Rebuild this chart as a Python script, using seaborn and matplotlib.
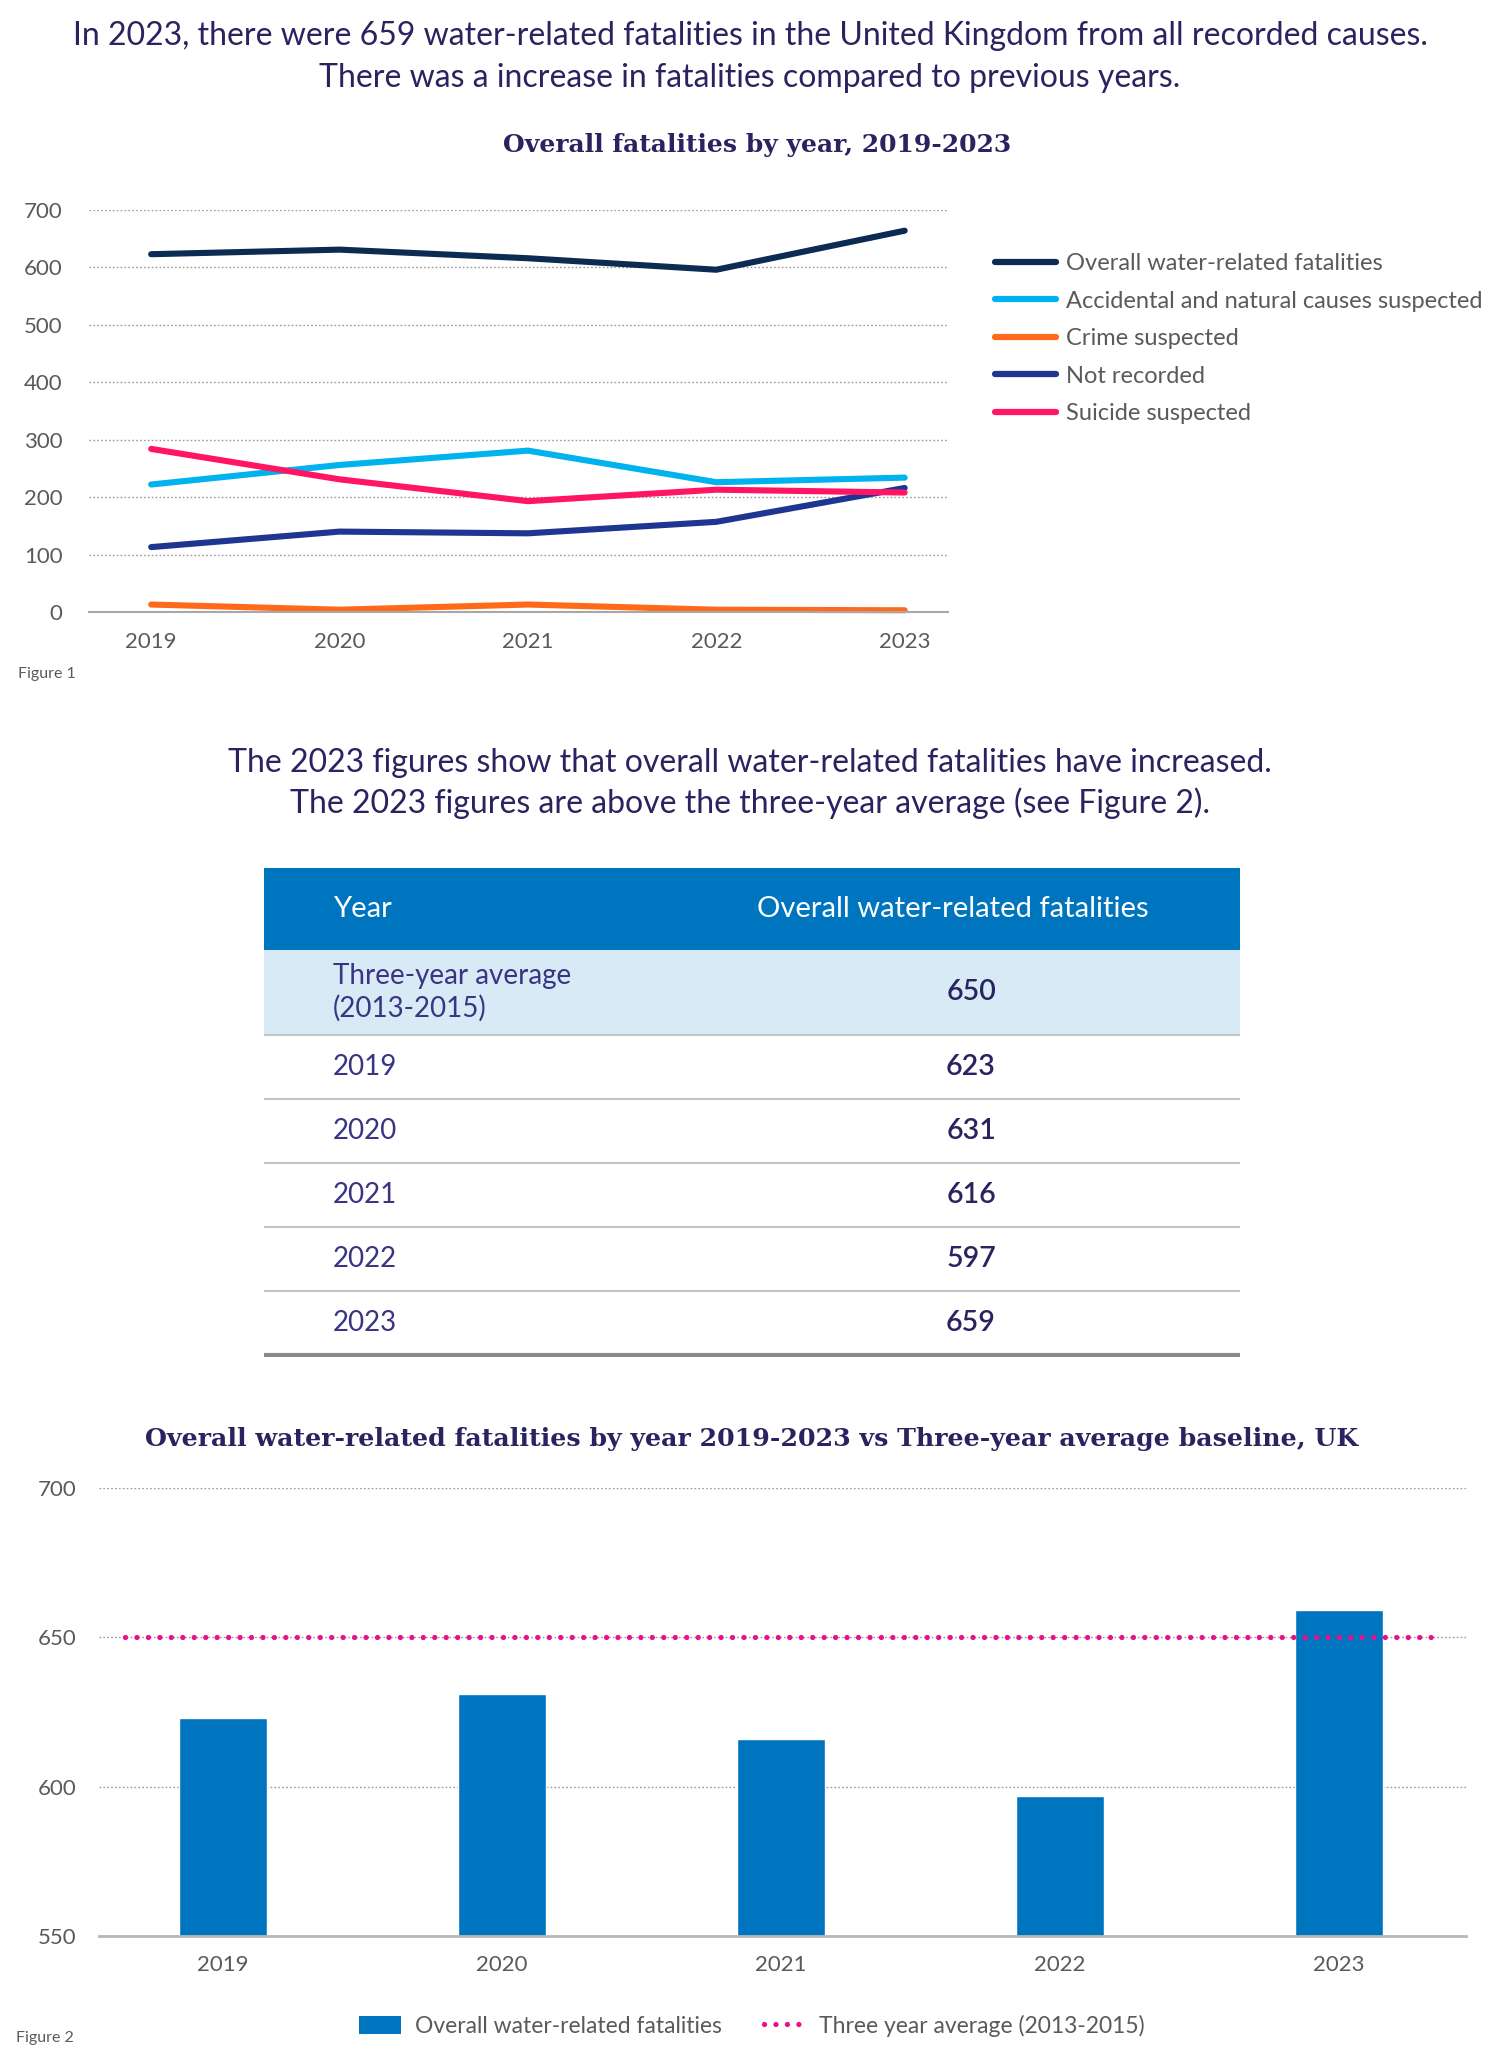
import numpy as np
import pandas as pd
import matplotlib
matplotlib.use('Agg')
import matplotlib.pyplot as plt
from matplotlib.lines import Line2D
from matplotlib.patches import Patch
import seaborn as sns

# --- data ---
years = [2019, 2020, 2021, 2022, 2023]
overall_line = [623, 631, 616, 596, 664]
accidental = [222, 256, 281, 226, 234]
crime = [13, 4, 13, 4, 3]
not_recorded = [113, 140, 137, 157, 216]
suicide = [284, 231, 193, 213, 208]

series_names = ['Overall water-related fatalities',
                'Accidental and natural causes suspected',
                'Crime suspected', 'Not recorded', 'Suicide suspected']
series_colors = ['#0b2b52', '#00b3ef', '#ff6a1a', '#1f3592', '#ff1563']

table_labels = ['Three-year average\n(2013-2015)', '2019', '2020', '2021', '2022', '2023']
table_values = [650, 623, 631, 616, 597, 659]

bar_years = ['2019', '2020', '2021', '2022', '2023']
bar_values = [623, 631, 616, 597, 659]
baseline_avg = 650

# --- style ---
sns.set_theme(style='white')
plt.rcParams['font.family'] = ['Lato', 'DejaVu Sans']
navy = '#29235f'
grey_txt = '#5a5a5a'
blue = '#0075bf'
pink = '#ec0f8c'
W, H = 1500, 2070

fig = plt.figure(figsize=(W / 100, H / 100), dpi=100)
fig.patch.set_facecolor('white')

def fy(y):
    return 1 - y / H

def rect(x0, y0, x1, y1):
    return [x0 / W, 1 - y1 / H, (x1 - x0) / W, (y1 - y0) / H]

# --- headline texts ---
fig.text(0.5, fy(36), 'In 2023, there were 659 water-related fatalities in the United Kingdom from all recorded causes.',
         ha='center', va='center', fontsize=23, color=navy)
fig.text(0.5, fy(78), 'There was a increase in fatalities compared to previous years.',
         ha='center', va='center', fontsize=23, color=navy)
fig.text(757 / W, fy(145), 'Overall fatalities by year, 2019-2023', ha='center', va='center',
         fontsize=18, color=navy, family='DejaVu Serif', fontweight='bold')

# --- Figure 1: line chart ---
ax1 = fig.add_axes(rect(89, 210, 948, 612))
df = pd.DataFrame({'year': years * 5,
                   'value': overall_line + accidental + crime + not_recorded + suicide,
                   'series': [n for n in series_names for _ in years]})
sns.lineplot(data=df, x='year', y='value', hue='series', hue_order=series_names,
             palette=dict(zip(series_names, series_colors)), lw=4.4, ax=ax1,
             legend=False, solid_capstyle='round')
ax1.set_ylim(0, 700)
ax1.set_xlim(2019 - 0.33, 2023 + 0.23)
ax1.set_yticks(range(0, 701, 100))
ax1.set_xticks(years)
ax1.set_xlabel('')
ax1.set_ylabel('')
ax1.grid(axis='y', linestyle=(0, (1.2, 1.6)), color='#9a9a9a', lw=1)
ax1.set_axisbelow(True)
for s in ['left', 'right', 'top']:
    ax1.spines[s].set_visible(False)
ax1.spines['bottom'].set_color('#a8a8a8')
ax1.spines['bottom'].set_linewidth(1.5)
ax1.tick_params(axis='y', length=0, pad=19, labelsize=16, labelcolor=grey_txt)
ax1.tick_params(axis='x', length=0, pad=14.5, labelsize=16, labelcolor=grey_txt)
for ln in ax1.lines:
    ln.set_clip_on(False)

handles1 = [Line2D([0], [0], color=c, lw=4.5, solid_capstyle='round') for c in series_colors]
fig.legend(handles1, series_names, loc='upper left', bbox_to_anchor=(995 / W, fy(253)),
           frameon=False, fontsize=17, handlelength=2.6, handletextpad=0.4,
           labelspacing=0.7, borderpad=0, borderaxespad=0, labelcolor=grey_txt)
fig.text(18 / W, fy(674), 'Figure 1', ha='left', va='center', fontsize=11.5, color=grey_txt)

# --- middle text ---
fig.text(0.5, fy(763), 'The 2023 figures show that overall water-related fatalities have increased.',
         ha='center', va='center', fontsize=23, color=navy)
fig.text(0.5, fy(803), 'The 2023 figures are above the three-year average (see Figure 2).',
         ha='center', va='center', fontsize=23, color=navy)

# --- table ---
tx0, tx1 = 264, 1240
row_h = [81.5, 85.5, 64, 64, 64, 64, 64]
edges = np.concatenate([[868], 868 + np.cumsum(row_h)])
axt = fig.add_axes(rect(tx0, edges[0], tx1, edges[-1] + 2))
axt.set_xlim(tx0, tx1)
axt.set_ylim(edges[-1] + 2, edges[0])
axt.axis('off')
axt.axhspan(edges[0], edges[1], color=blue, lw=0)
axt.axhspan(edges[1], edges[2], color='#d7eaf6', lw=0)
axt.text(333, (edges[0] + edges[1]) / 2, 'Year', ha='left', va='center', fontsize=21, color='white')
axt.text(953, (edges[0] + edges[1]) / 2, 'Overall water-related fatalities', ha='center', va='center',
         fontsize=21, color='white')
for i, (lab, val) in enumerate(zip(table_labels, table_values)):
    yc = (edges[i + 1] + edges[i + 2]) / 2
    axt.text(333, yc, lab, ha='left', va='center', fontsize=20, color='#3a3582', linespacing=1.25)
    axt.text(971, yc, str(val), ha='center', va='center', fontsize=20.5, color=navy, fontweight='semibold')
    if i < len(table_labels) - 1:
        axt.axhline(edges[i + 2], color='#c4c4c4', lw=1.5)
axt.axhline(edges[-1], color='#8a8a8a', lw=3)

# --- Figure 2: bar chart ---
fig.text(752 / W, fy(1439), 'Overall water-related fatalities by year 2019-2023 vs Three-year average baseline, UK',
         ha='center', va='center', fontsize=18.2, color=navy, family='DejaVu Serif', fontweight='bold')
ax2 = fig.add_axes(rect(99, 1488, 1466, 1936))
sns.barplot(x=bar_years, y=bar_values, color=blue, saturation=1, width=0.315, ax=ax2, zorder=2)
ax2.set_ylim(550, 700)
ax2.set_xlim(-0.444, 4.455)
ax2.set_yticks([550, 600, 650, 700])
ax2.grid(axis='y', linestyle=(0, (1.2, 1.6)), color='#9a9a9a', lw=1)
ax2.set_axisbelow(True)
ax2.axhline(baseline_avg, xmin=0.019, xmax=0.980, color=pink, lw=3.8,
            linestyle=(0, (0.01, 2.16)), dash_capstyle='round', zorder=3)
for s in ['left', 'right', 'top']:
    ax2.spines[s].set_visible(False)
ax2.spines['bottom'].set_color('#b8b8b8')
ax2.spines['bottom'].set_linewidth(2)
ax2.tick_params(axis='y', length=0, pad=16, labelsize=16, labelcolor=grey_txt)
ax2.tick_params(axis='x', length=0, pad=14, labelsize=16, labelcolor=grey_txt)
ax2.set_xlabel('')
ax2.set_ylabel('')

handles2 = [Patch(facecolor=blue, edgecolor='none'),
            Line2D([0], [0], color=pink, lw=3.8, linestyle=(0, (0.01, 2.16)), dash_capstyle='round')]
fig.legend(handles2, ['Overall water-related fatalities', 'Three year average (2013-2015)'],
           loc='center', bbox_to_anchor=(752 / W, fy(2026)), ncol=2, frameon=False,
           fontsize=16.5, handlelength=1.85, handleheight=0.87, handletextpad=0.57,
           columnspacing=1.85, borderpad=0, labelcolor=grey_txt)
fig.text(16 / W, fy(2038), 'Figure 2', ha='left', va='center', fontsize=11.5, color=grey_txt)

fig.savefig('out.png', dpi=100, facecolor='white')
